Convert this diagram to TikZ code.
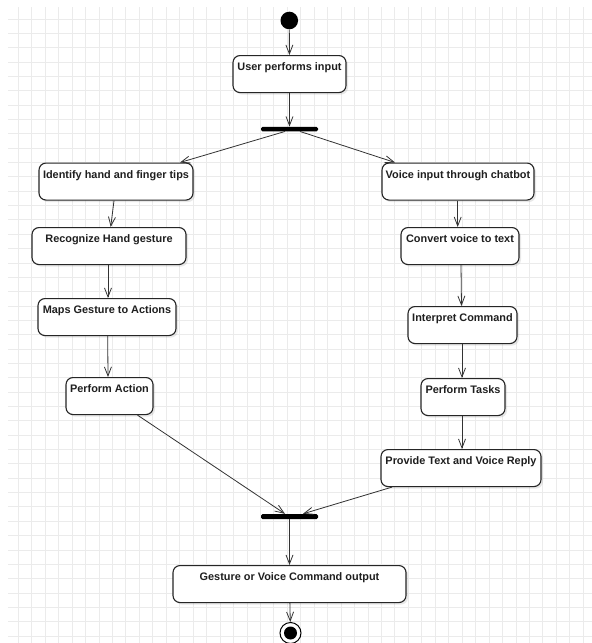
\documentclass[tikz,border=0pt]{standalone}
\usepackage{fontspec}
\setmainfont{Liberation Sans}
\usetikzlibrary{arrows.meta,shadows}
\begin{document}
\begin{tikzpicture}[x=1pt,y=-1pt,
  act/.style={draw=black!85, line width=1.1pt, rounded corners=7pt, fill=white,
    inner sep=0pt, text height=15pt, text depth=22pt, anchor=north,
    font=\fontsize{10.9}{13}\selectfont\bfseries, text=black!88,
    drop shadow={shadow xshift=2pt,shadow yshift=-2pt,opacity=0.18}},
  syncbar/.style={fill=black, minimum width=57pt, minimum height=4.5pt, inner sep=0pt, rounded corners=1.5pt},
  flow/.style={draw=black!80, line width=0.8pt, -{Straight Barb[length=9pt,width=7pt]}},
  gridline/.style={draw=black!8, line width=0.9pt},
]
\useasboundingbox (0,0) rectangle (592,643);
\fill[white] (0,0) rectangle (592,643);
\foreach \i in {0,...,42} \draw[gridline] ({18.3+13.45*\i},7) -- ({18.3+13.45*\i},643);
\foreach \j in {0,...,43} \draw[gridline] (8,{19+14.35*\j}) -- (592,{19+14.35*\j});

% start / end
\node[circle, fill=black, minimum size=17.6pt, inner sep=0pt] (start) at (289.3,20.5) {};
\node[circle, draw=black, line width=1pt, fill=white, minimum size=21pt, inner sep=0pt] (end) at (290.5,633) {};
\node[circle, fill=black, minimum size=13pt, inner sep=0pt] (endin) at (end) {};

% activities
\node[act, minimum width=113pt] (user) at (289.5,55) {User performs input};
\node[act, minimum width=154pt] (ident) at (116,162.5) {Identify hand and finger tips};
\node[act, minimum width=154pt] (recog) at (109,227) {Recognize Hand gesture};
\node[act, minimum width=138pt] (maps) at (107,298) {Maps Gesture to Actions};
\node[act, minimum width=87pt] (pact) at (109.5,377) {Perform Action};
\node[act, minimum width=152pt] (voice) at (458,162.5) {Voice input through chatbot};
\node[act, minimum width=118pt] (conv) at (460,227) {Convert voice to text};
\node[act, minimum width=109pt] (interp) at (462.5,306) {Interpret Command};
\node[act, minimum width=84pt] (ptasks) at (463,378) {Perform Tasks};
\node[act, minimum width=160pt] (provide) at (461,449) {Provide Text and Voice Reply};
\node[act, minimum width=233pt] (gest) at (289.5,565) {Gesture or Voice Command output};

% bars
\node[syncbar] (bar1) at (289.5,129) {};
\node[syncbar, minimum height=5pt] (bar2) at (289.5,516.5) {};

% flows
\draw[flow] (start) -- (user);
\draw[flow] (user) -- (bar1);
\draw[flow] ([xshift=-4.5pt]bar1.south) -- ([xshift=64pt]ident.north);
\draw[flow] ([xshift=10.5pt]bar1.south) -- ([xshift=-63pt]voice.north);
\draw[flow] ([xshift=-2pt]ident.south) -- ([xshift=1.7pt]recog.north);
\draw[flow] ([xshift=-1pt]recog.south) -- ([xshift=1pt]maps.north);
\draw[flow] ([xshift=0.7pt]maps.south) -- ([xshift=-1.5pt]pact.north);
\draw[flow] ([xshift=28pt]pact.south) -- ([xshift=-4.5pt]bar2.north);
\draw[flow] ([xshift=-0.3pt]voice.south) -- ([xshift=-2.3pt]conv.north);
\draw[flow] ([xshift=1pt]conv.south) -- ([xshift=-1pt]interp.north);
\draw[flow] ([xshift=-0.5pt]interp.south) -- ([xshift=-1pt]ptasks.north);
\draw[flow] ([xshift=-1pt]ptasks.south) -- ([xshift=1pt]provide.north);
\draw[flow] ([xshift=-69pt]provide.south) -- ([xshift=13.5pt]bar2.north);
\draw[flow] (bar2) -- (gest);
\draw[flow] (gest) -- (end);
\end{tikzpicture}
\end{document}
